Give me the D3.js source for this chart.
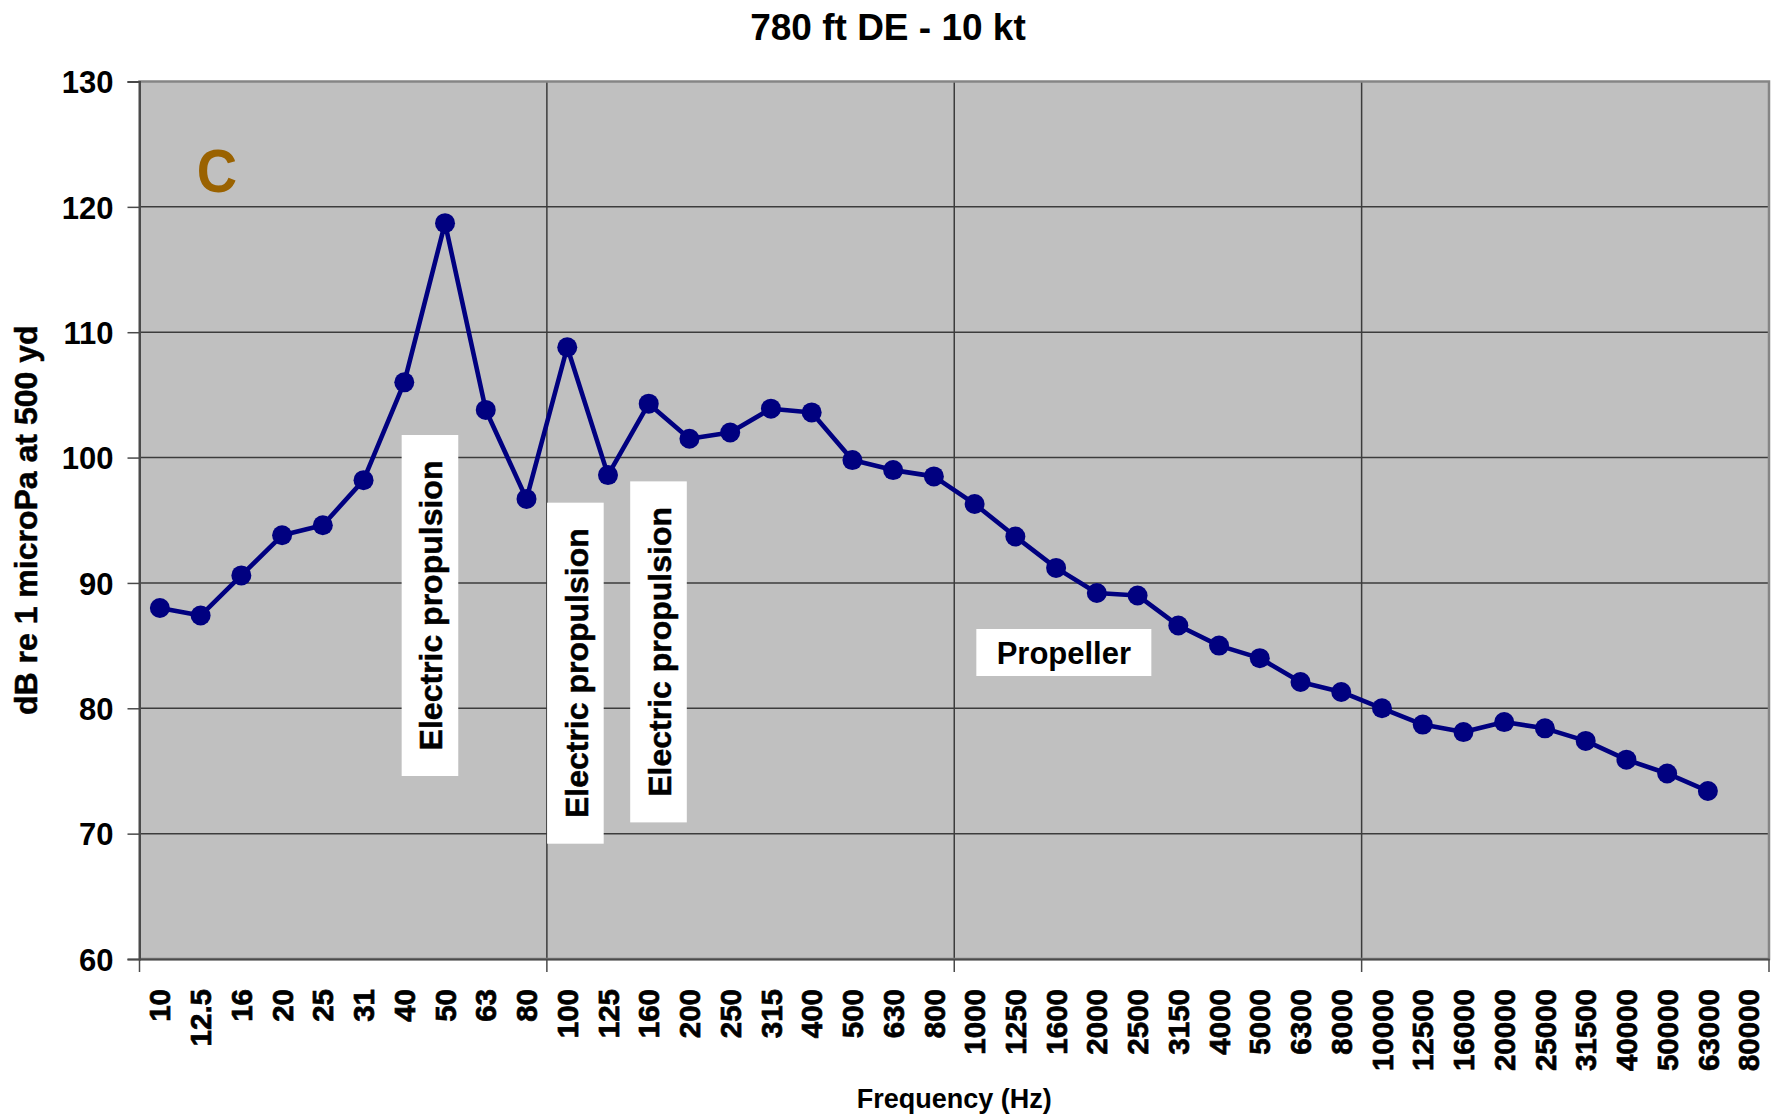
<!DOCTYPE html>
<html>
<head>
<meta charset="utf-8">
<script src="https://cdn.jsdelivr.net/npm/d3@7"></script>
<style>
  html, body { margin: 0; padding: 0; background: #fff; }
  svg { display: block; }
  text { font-family: "Liberation Sans", Arial, sans-serif; font-weight: bold; }
</style>
</head>
<body>
<svg id="chart" width="1778" height="1118"></svg>
<script>
// ---- data ----
const categories = ["10","12.5","16","20","25","31","40","50","63","80",
  "100","125","160","200","250","315","400","500","630","800",
  "1000","1250","1600","2000","2500","3150","4000","5000","6300","8000",
  "10000","12500","16000","20000","25000","31500","40000","50000","63000","80000"];
const levels = [88.0, 87.4, 90.6, 93.8, 94.6, 98.2, 106.0, 118.7, 103.8, 96.7,
  108.8, 98.6, 104.3, 101.5, 102.0, 103.9, 103.6, 99.8, 99.0, 98.5,
  96.3, 93.7, 91.2, 89.2, 89.0, 86.6, 85.0, 84.0, 82.1, 81.3,
  80.0, 78.7, 78.1, 78.9, 78.4, 77.4, 75.9, 74.8, 73.4, null];
const yTicks = [60, 70, 80, 90, 100, 110, 120, 130];
const gridEvery = 10; // category-axis tick/gridline interval
const annotationTexts = ["Electric propulsion", "Electric propulsion", "Electric propulsion", "Propeller"];
const annotationPos = [7.13, 10.70, 12.74, 22.69];   // in category units
const annotationLevel = [88.2, 82.8, 84.5, 84.45];   // in dB
const annotationVertical = [true, true, true, false];
const titleText = "780 ft DE - 10 kt";
const yLabel = "dB re 1 microPa at 500 yd";
const xLabel = "Frequency (Hz)";
const panelLetter = "C";

// ---- layout ----
const W = 1778, H = 1118;
const L = 139.5, R = 1769, T = 81.5, B = 959;
const svg = d3.select("#chart");
svg.append("rect").attr("width", W).attr("height", H).attr("fill", "#fff");

const x = d3.scaleBand().domain(categories).range([L, R]).padding(0);
const xPos = d3.scaleLinear().domain([0, categories.length]).range([L, R]);
const y = d3.scaleLinear().domain([60, 130]).range([B, T]);

// plot background
svg.append("rect").attr("x", L).attr("y", T).attr("width", R - L).attr("height", B - T)
  .attr("fill", "#c0c0c0");

// horizontal gridlines
svg.append("g").selectAll("line").data(yTicks.filter(v => v > 60 && v < 130)).join("line")
  .attr("x1", L).attr("x2", R).attr("y1", d => y(d)).attr("y2", d => y(d))
  .attr("stroke", "#3c3c3c").attr("stroke-width", 1.5);

// vertical gridlines at category boundaries
const boundaries = d3.range(gridEvery, categories.length, gridEvery);
svg.append("g").selectAll("line").data(boundaries).join("line")
  .attr("x1", d => x(categories[d])).attr("x2", d => x(categories[d]))
  .attr("y1", T).attr("y2", B)
  .attr("stroke", "#3c3c3c").attr("stroke-width", 1.5);

// plot border (top / right gray)
svg.append("rect").attr("x", L).attr("y", T).attr("width", R - L).attr("height", B - T)
  .attr("fill", "none").attr("stroke", "#858585").attr("stroke-width", 2.5);

// y axis
const yAxis = svg.append("g").attr("transform", `translate(${L},0)`)
  .call(d3.axisLeft(y).tickValues(yTicks).tickSize(12).tickPadding(14).tickFormat(d3.format("d")));
yAxis.select(".domain").attr("stroke", "#4a4a4a").attr("stroke-width", 2);
yAxis.selectAll(".tick line").attr("stroke", "#4a4a4a").attr("stroke-width", 1.5);
yAxis.selectAll(".tick text").attr("font-size", 31).attr("fill", "#000")
  .attr("font-family", "'Liberation Sans', Arial, sans-serif").attr("font-weight", "bold")
  .attr("dy", "0.36em");

// x axis labels
const xAxis = svg.append("g").attr("transform", `translate(0,${B})`)
  .call(d3.axisBottom(x).tickSize(0).tickPadding(0));
xAxis.select(".domain").attr("stroke", "#4a4a4a").attr("stroke-width", 2);
xAxis.selectAll(".tick text")
  .attr("font-size", 29.5).attr("fill", "#000")
  .attr("stroke", "#000").attr("stroke-width", 0.7)
  .attr("font-family", "'Liberation Sans', Arial, sans-serif").attr("font-weight", "bold")
  .attr("text-anchor", "end")
  .attr("transform", "rotate(-90)")
  .attr("x", -30).attr("y", 0).attr("dy", "0.36em");

// x boundary tick marks
const tickIdx = d3.range(0, categories.length + 1, gridEvery);
svg.append("g").selectAll("line").data(tickIdx).join("line")
  .attr("x1", d => d < categories.length ? x(categories[d]) : x.range()[1])
  .attr("x2", d => d < categories.length ? x(categories[d]) : x.range()[1])
  .attr("y1", B).attr("y2", B + 13)
  .attr("stroke", "#4a4a4a").attr("stroke-width", 1.5);

// annotations (white boxes)
const ann = svg.append("g");
annotationTexts.forEach((t, i) => {
  const cx = xPos(annotationPos[i]), cy = y(annotationLevel[i]);
  const vert = annotationVertical[i];
  const bw = vert ? 56.6 : 175, bh = vert ? 341 : 47;
  ann.append("rect").attr("x", cx - bw / 2).attr("y", cy - bh / 2)
    .attr("width", bw).attr("height", bh).attr("fill", "#fff");
  const tx = ann.append("text").attr("text-anchor", "middle")
    .attr("font-size", vert ? 32 : 31).attr("fill", "#000").attr("dy", "0.36em").text(t);
  if (vert) tx.attr("transform", `translate(${cx + 1},${cy}) rotate(-90)`).attr("stroke", "#000").attr("stroke-width", 0.5);
  else tx.attr("transform", `translate(${cx},${cy})`);
});

// line + markers
const pts = categories.map((c, i) => ({ c, v: levels[i] })).filter(d => d.v != null);
const line = d3.line().x(d => x(d.c) + x.bandwidth() / 2).y(d => y(d.v));
svg.append("path").datum(pts).attr("d", line)
  .attr("fill", "none").attr("stroke", "#000080").attr("stroke-width", 4.6)
  .attr("stroke-linejoin", "round");
svg.append("g").selectAll("circle").data(pts).join("circle")
  .attr("cx", d => x(d.c) + x.bandwidth() / 2).attr("cy", d => y(d.v))
  .attr("r", 10).attr("fill", "#000080");

// panel letter
const cX = xPos(1.90), cY = y(121.2);
svg.append("text").attr("transform", `translate(${cX},${cY}) scale(0.9,1)`)
  .attr("text-anchor", "middle").attr("font-size", 62).attr("fill", "#9a6200")
  .text(panelLetter);

// titles
svg.append("text").attr("x", 888).attr("y", 39.5).attr("text-anchor", "middle")
  .attr("font-size", 37).attr("fill", "#000").text(titleText);
svg.append("text").attr("transform", `translate(36.5,${(T + B) / 2}) rotate(-90)`)
  .attr("text-anchor", "middle").attr("font-size", 32).attr("fill", "#000")
  .attr("stroke", "#000").attr("stroke-width", 0.5).text(yLabel);
svg.append("text").attr("x", (L + R) / 2).attr("y", 1108).attr("text-anchor", "middle")
  .attr("font-size", 27).attr("fill", "#000").text(xLabel);
</script>
</body>
</html>
